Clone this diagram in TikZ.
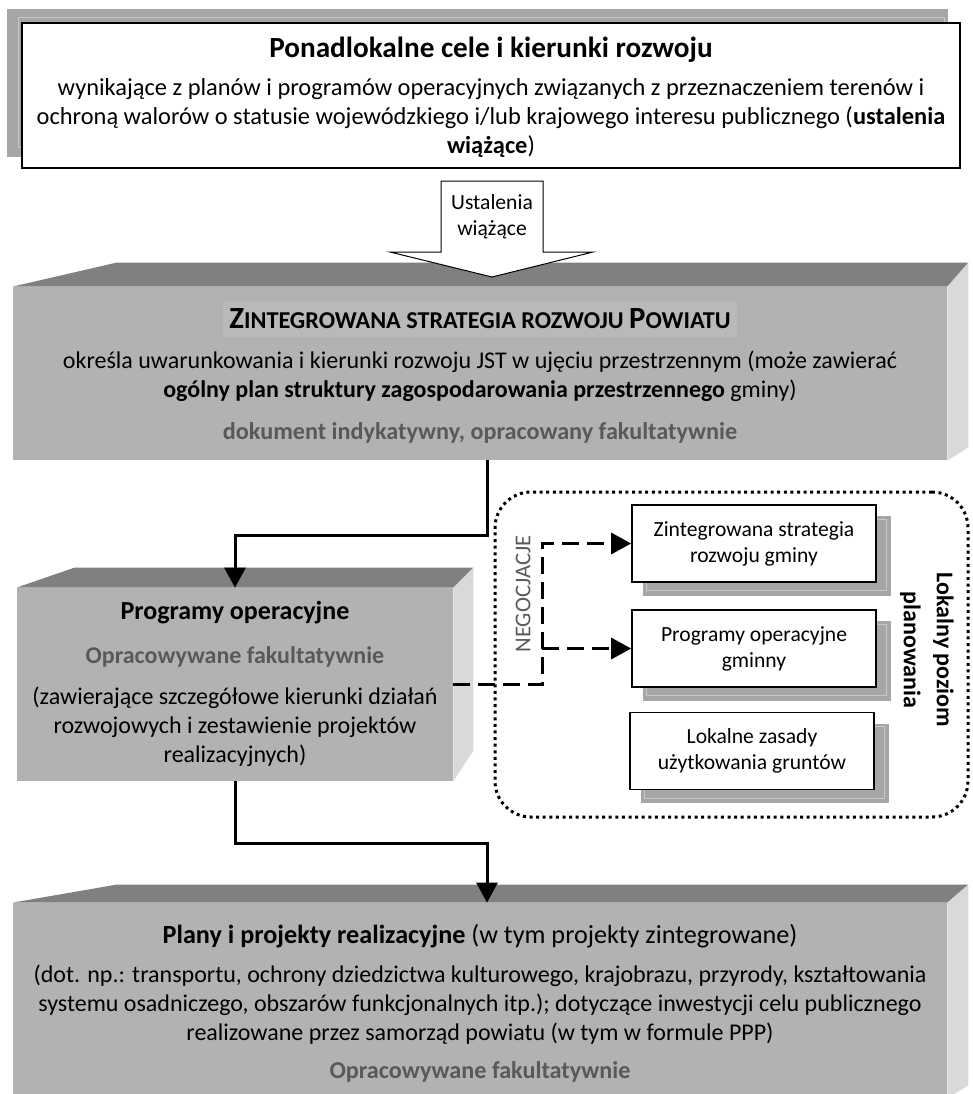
\documentclass[tikz,border=0pt]{standalone}
\usepackage{fontspec}
\setmainfont{Carlito}
\usetikzlibrary{arrows.meta,backgrounds}

\definecolor{sciana}{HTML}{B2B2B2}
\definecolor{wierzch}{HTML}{808080}
\definecolor{bok}{HTML}{D9D9D9}
\definecolor{cien}{HTML}{A6A6A6}
\definecolor{cienlinia}{HTML}{C8C8C8}
\definecolor{tlo}{HTML}{B9B9B9}
\definecolor{szarytekst}{HTML}{595959}

\newcommand{\kap}[1]{{\fontsize{12.1}{14}\selectfont #1}}

\begin{document}
\begin{tikzpicture}[
    x=0.5pt, y=-0.5pt,
    every node/.style={font=\fontsize{12}{14.5}\selectfont, align=center, inner sep=0pt},
    przod/.style={fill=sciana, inner sep=0pt},
    ramka/.style={draw=black, line width=0.8pt, fill=white},
    maly/.style={ramka, minimum width=122pt, minimum height=38.5pt,
      font=\fontsize{10.8}{13}\selectfont},
    szary/.style={text=szarytekst, font=\bfseries\fontsize{12.1}{14}\selectfont},
    strzalka/.style={line width=1.5pt, -{Triangle[width=10.5pt,length=10pt]}},
    negoc/.style={strzalka, dash pattern=on 8.5pt off 4pt}
  ]
  \useasboundingbox (0,0) rectangle (973,1094);

  % --- Ponadlokalne cele ---
  \node[ramka, minimum width=469pt, minimum height=72.5pt] (pcel) at (491,95.5) {};
  \begin{scope}[on background layer]
    \fill[cien] ([shift={(-14,-13)}]pcel.north west) rectangle ([shift={(-13,-12)}]pcel.south east);
    \draw[cienlinia, line width=0.6pt] ([shift={(-3,-5)}]pcel.north west) rectangle ([shift={(-16,-21)}]pcel.south east);
  \end{scope}
  \node[font=\bfseries\fontsize{14.6}{17}\selectfont] (pceltyt) at (491,50) {Ponadlokalne cele i kierunki rozwoju};
  \node[font=\fontsize{12.2}{14.7}\selectfont] (pcelopis) at (491,118) {wynikające z planów i programów operacyjnych związanych z przeznaczeniem terenów i\\
    ochroną walorów o statusie wojewódzkiego i/lub krajowego interesu publicznego (\textbf{ustalenia}\\
    \textbf{wiążące})};

  % --- Zintegrowana strategia powiatu ---
  \node[przod, minimum width=467pt, minimum height=86.5pt] (zsp) at (480,373.5) {};
  \fill[wierzch] (zsp.north west) -- ++(104,-24) -- ([shift={(21,-24)}]zsp.north east) -- (zsp.north east) -- cycle;
  \fill[bok] (zsp.north east) -- ++(21,-24) -- ([shift={(21,-13)}]zsp.south east) -- (zsp.south east) -- cycle;
  \node[fill=tlo, inner xsep=3pt, inner ysep=4pt, font=\bfseries\fontsize{15.4}{17}\selectfont] (zsptyt) at (480,319)
    {Z\kap{INTEGROWANA STRATEGIA ROZWOJU }P\kap{OWIATU}};
  \node (zspopis) at (480,376) {określa uwarunkowania i kierunki rozwoju JST w ujęciu przestrzennym (może zawierać\\
    \textbf{ogólny plan struktury zagospodarowania przestrzennego} gminy)};
  \node[szary] (zspdok) at (480,433) {dokument indykatywny, opracowany fakultatywnie};

  % block arrow: Ustalenia wiazace
  \coordinate (ustc) at (492,217);
  \filldraw[fill=white, draw=black, line width=0.5pt] ([shift={(-51,-36)}]ustc) -- ([shift={(51,-36)}]ustc)
    -- ([shift={(51,35)}]ustc) -- ([shift={(101,35)}]ustc) -- ([shift={(0,60)}]ustc)
    -- ([shift={(-102,35)}]ustc) -- ([shift={(-51,35)}]ustc) -- cycle;
  \node[font=\fontsize{10.8}{13}\selectfont] (ust) at (ustc) {Ustalenia\\wiążące};

  % --- Programy operacyjne ---
  \node[przod, minimum width=218pt, minimum height=96.5pt] (po) at (235,684.5) {};
  \fill[wierzch] (po.north west) -- ++(58,-20) -- ([shift={(20,-20)}]po.north east) -- (po.north east) -- cycle;
  \fill[bok] (po.north east) -- ++(20,-20) -- ([shift={(20,-31)}]po.south east) -- (po.south east) -- cycle;
  \node[font=\bfseries\fontsize{13}{16}\selectfont] (potyt) at (235,613) {Programy operacyjne};
  \node[szary, font=\bfseries\fontsize{12}{14}\selectfont] (pofak) at (235,657) {Opracowywane fakultatywnie};
  \node[font=\fontsize{12}{14.5}\selectfont] (poopis) at (235,727) {(zawierające szczegółowe kierunki działań\\
    rozwojowych i zestawienie projektów\\realizacyjnych)};

  % --- Lokalny poziom planowania ---
  \node[draw, line width=1.5pt, dash pattern=on 1.5pt off 1.8pt, rounded corners=18pt,
    minimum width=236.5pt, minimum height=162.5pt] (lpp) at (731.5,654.5) {};
  \node[maly] (zsg) at (754,543.5) {Zintegrowana strategia\\rozwoju gminy};
  \node[maly] (pog) at (754,648.5) {Programy operacyjne\\gminny};
  \node[maly] (lzu) at (752,751) {Lokalne zasady\\użytkowania gruntów};
  \begin{scope}[on background layer]
    \foreach \b in {zsg,pog,lzu} {
      \fill[cien] ([shift={(12,12)}]\b.north west) rectangle ([shift={(14,13)}]\b.south east);
      \draw[cienlinia, line width=0.6pt] ([shift={(15,15)}]\b.north west) rectangle ([shift={(10,8)}]\b.south east);
    }
  \end{scope}
  \node[rotate=90, text=szarytekst, font=\fontsize{11.3}{13}\selectfont] (neg) at (523,594) {NEGOCJACJE};
  \node[rotate=-90, font=\bfseries\fontsize{12}{16.5}\selectfont] (lpptyt) at (927,650) {Lokalny poziom\\planowania};

  % --- Plany i projekty realizacyjne ---
  \node[przod, minimum width=467pt, minimum height=97.5pt] (ppr) at (480,1000.5) {};
  \fill[wierzch] (ppr.north west) -- ++(104,-18) -- ([shift={(21,-18)}]ppr.north east) -- (ppr.north east) -- cycle;
  \fill[bok] (ppr.north east) -- ++(21,-18) -- ([shift={(21,-13)}]ppr.south east) -- (ppr.south east) -- cycle;
  \node[font=\fontsize{13.1}{15}\selectfont] (pprtyt) at (480,936) {\textbf{Plany i projekty realizacyjne} (w tym projekty zintegrowane)};
  \node (pprobis) at (480,1005) {(dot. np.: transportu, ochrony dziedzictwa kulturowego, krajobrazu, przyrody, kształtowania\\
    systemu osadniczego, obszarów funkcjonalnych itp.); dotyczące inwestycji celu publicznego\\
    realizowane przez samorząd powiatu (w tym w formule PPP)};
  \node[szary] (pprfak) at (480,1072) {Opracowywane fakultatywnie};

  % connectors
  \draw[strzalka] ([xshift=3.5pt]zsp.south) -- ++(0,75) -| (po.north);
  \draw[strzalka] (po.south) -- ++(0,62) -| ([xshift=3.5pt]ppr.north);
  \draw[negoc] (po.east) -- ++(89,0) coordinate (rozg) |- (zsg.west);
  \draw[negoc] (rozg |- pog.west) -- (pog.west);
\end{tikzpicture}
\end{document}
